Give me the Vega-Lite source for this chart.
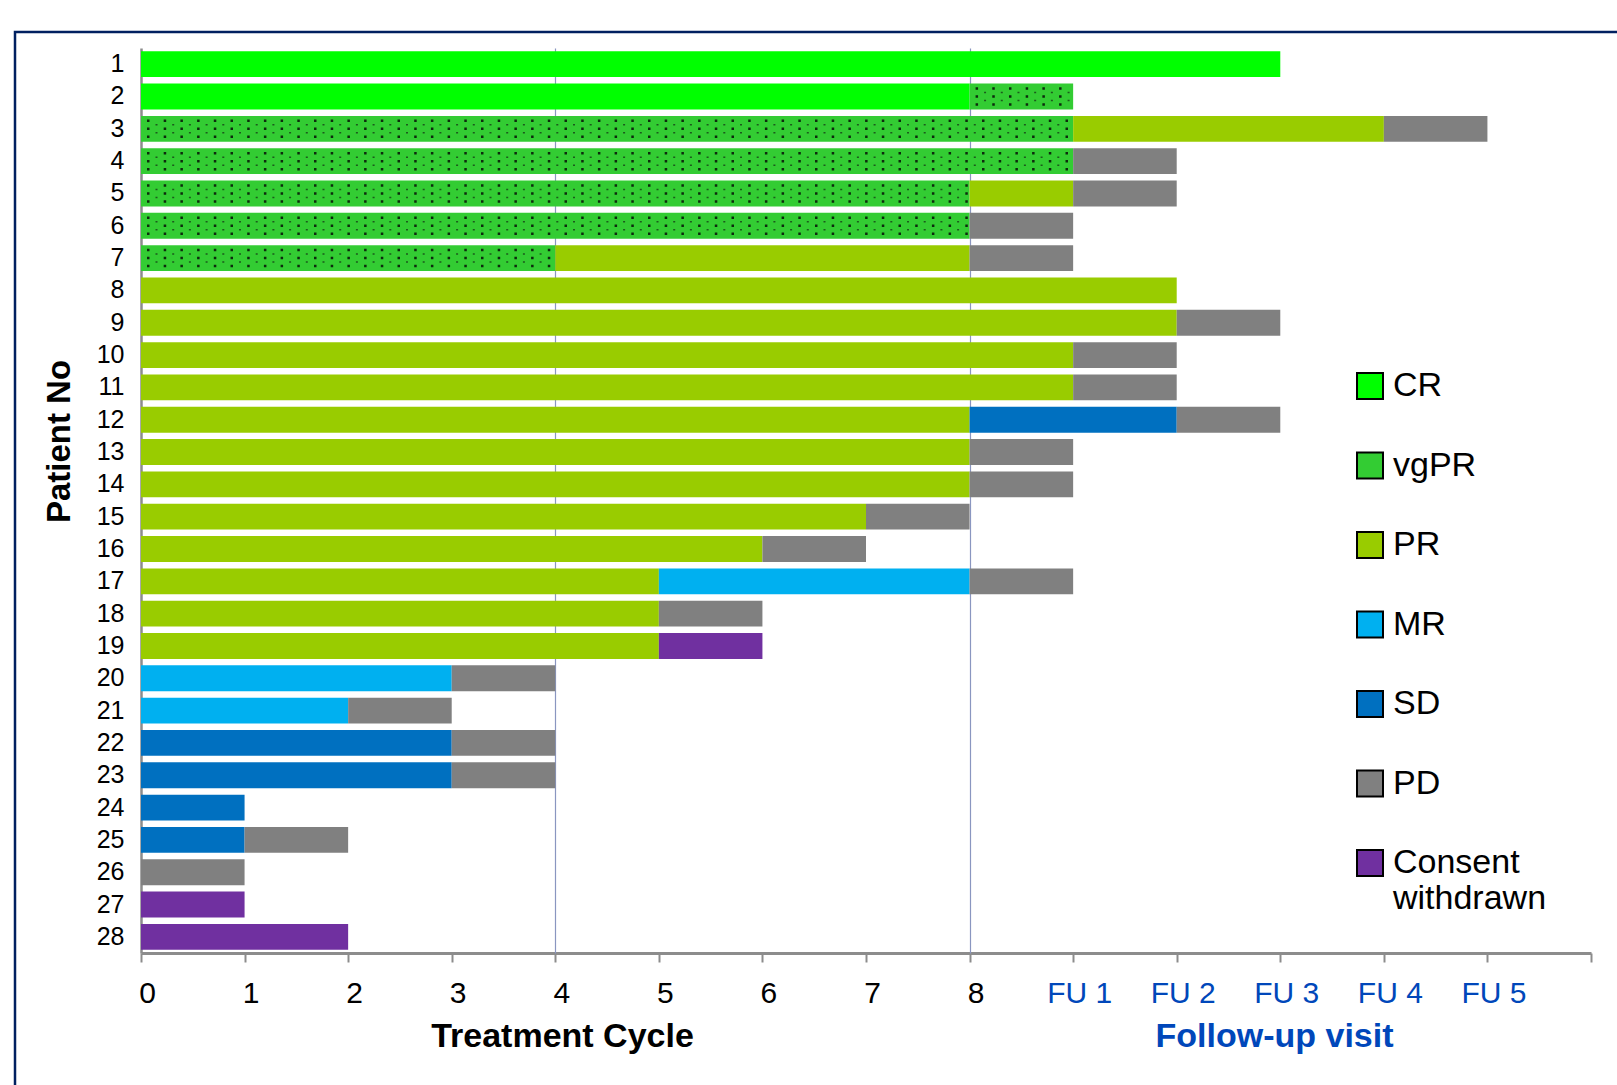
{
  "$schema": "https://vega.github.io/schema/vega-lite/v6.json",
  "width": 1610,
  "height": 1060,
  "autosize": {"type": "none"},
  "padding": {"left": 15, "top": 32, "right": 0, "bottom": 0},
  "background": "white",
  "config": {
    "font": "Liberation Sans",
    "view": {"stroke": "#002060", "strokeWidth": 2.5}
  },
  "data": {
    "values": [
      {"patient": 1, "status": "CR", "start": 0, "end": 11},
      {"patient": 2, "status": "CR", "start": 0, "end": 8},
      {"patient": 2, "status": "vgPR", "start": 8, "end": 9},
      {"patient": 3, "status": "vgPR", "start": 0, "end": 9},
      {"patient": 3, "status": "PR", "start": 9, "end": 12},
      {"patient": 3, "status": "PD", "start": 12, "end": 13},
      {"patient": 4, "status": "vgPR", "start": 0, "end": 9},
      {"patient": 4, "status": "PD", "start": 9, "end": 10},
      {"patient": 5, "status": "vgPR", "start": 0, "end": 8},
      {"patient": 5, "status": "PR", "start": 8, "end": 9},
      {"patient": 5, "status": "PD", "start": 9, "end": 10},
      {"patient": 6, "status": "vgPR", "start": 0, "end": 8},
      {"patient": 6, "status": "PD", "start": 8, "end": 9},
      {"patient": 7, "status": "vgPR", "start": 0, "end": 4},
      {"patient": 7, "status": "PR", "start": 4, "end": 8},
      {"patient": 7, "status": "PD", "start": 8, "end": 9},
      {"patient": 8, "status": "PR", "start": 0, "end": 10},
      {"patient": 9, "status": "PR", "start": 0, "end": 10},
      {"patient": 9, "status": "PD", "start": 10, "end": 11},
      {"patient": 10, "status": "PR", "start": 0, "end": 9},
      {"patient": 10, "status": "PD", "start": 9, "end": 10},
      {"patient": 11, "status": "PR", "start": 0, "end": 9},
      {"patient": 11, "status": "PD", "start": 9, "end": 10},
      {"patient": 12, "status": "PR", "start": 0, "end": 8},
      {"patient": 12, "status": "SD", "start": 8, "end": 10},
      {"patient": 12, "status": "PD", "start": 10, "end": 11},
      {"patient": 13, "status": "PR", "start": 0, "end": 8},
      {"patient": 13, "status": "PD", "start": 8, "end": 9},
      {"patient": 14, "status": "PR", "start": 0, "end": 8},
      {"patient": 14, "status": "PD", "start": 8, "end": 9},
      {"patient": 15, "status": "PR", "start": 0, "end": 7},
      {"patient": 15, "status": "PD", "start": 7, "end": 8},
      {"patient": 16, "status": "PR", "start": 0, "end": 6},
      {"patient": 16, "status": "PD", "start": 6, "end": 7},
      {"patient": 17, "status": "PR", "start": 0, "end": 5},
      {"patient": 17, "status": "MR", "start": 5, "end": 8},
      {"patient": 17, "status": "PD", "start": 8, "end": 9},
      {"patient": 18, "status": "PR", "start": 0, "end": 5},
      {"patient": 18, "status": "PD", "start": 5, "end": 6},
      {"patient": 19, "status": "PR", "start": 0, "end": 5},
      {"patient": 19, "status": "Consent withdrawn", "start": 5, "end": 6},
      {"patient": 20, "status": "MR", "start": 0, "end": 3},
      {"patient": 20, "status": "PD", "start": 3, "end": 4},
      {"patient": 21, "status": "MR", "start": 0, "end": 2},
      {"patient": 21, "status": "PD", "start": 2, "end": 3},
      {"patient": 22, "status": "SD", "start": 0, "end": 3},
      {"patient": 22, "status": "PD", "start": 3, "end": 4},
      {"patient": 23, "status": "SD", "start": 0, "end": 3},
      {"patient": 23, "status": "PD", "start": 3, "end": 4},
      {"patient": 24, "status": "SD", "start": 0, "end": 1},
      {"patient": 25, "status": "SD", "start": 0, "end": 1},
      {"patient": 25, "status": "PD", "start": 1, "end": 2},
      {"patient": 26, "status": "PD", "start": 0, "end": 1},
      {"patient": 27, "status": "Consent withdrawn", "start": 0, "end": 1},
      {"patient": 28, "status": "Consent withdrawn", "start": 0, "end": 2}
    ]
  },
  "layer": [
    {
      "mark": {"type": "bar"},
      "encoding": {
        "y": {
          "field": "patient",
          "type": "ordinal",
          "scale": {"range": [16, 921], "paddingInner": 0.2, "paddingOuter": 0.1},
          "axis": {
            "orient": "left",
            "offset": -126,
            "domainColor": "#8c8c8c",
            "domainWidth": 2.5,
            "ticks": false,
            "grid": false,
            "labelFontSize": 25,
            "labelColor": "black",
            "labelPadding": 17,
            "title": "Patient No",
            "titleFontSize": 33,
            "titleFontWeight": "bold",
            "titleColor": "black",
            "titleX": -82,
            "titleY": 409,
            "titleAlign": "center",
            "titleBaseline": "middle"
          }
        },
        "x": {
          "field": "start",
          "type": "quantitative",
          "scale": {"domain": [0, 14], "range": [126, 1576], "nice": false, "zero": false},
          "axis": {
            "orient": "bottom",
            "offset": -139,
            "values": [0, 1, 2, 3, 4, 5, 6, 7, 8, 9, 10, 11, 12, 13, 14],
            "labelExpr": "datum.value > 13 ? '' : (datum.value > 8 ? 'FU ' + (datum.value - 8) : datum.label)",
            "labelColor": {"condition": {"test": "datum.value > 8", "value": "#0047BA"}, "value": "black"},
            "labelFontSize": 30,
            "labelPadding": 16,
            "labelOffset": 6,
            "labelFlush": false,
            "labelOverlap": false,
            "domainColor": "#8c8c8c",
            "domainWidth": 3,
            "tickColor": "#8c8c8c",
            "tickWidth": 2,
            "tickSize": 9,
            "grid": false,
            "title": "Treatment Cycle",
            "titleFontSize": 34,
            "titleFontWeight": "bold",
            "titleColor": "black",
            "titleX": 547,
            "titleY": 83,
            "titleAlign": "center",
            "titleBaseline": "middle"
          }
        },
        "x2": {"field": "end"},
        "color": {
          "field": "status",
          "type": "nominal",
          "scale": {
            "domain": ["CR", "vgPR", "PR", "MR", "SD", "PD", "Consent withdrawn"],
            "range": ["#00FF00", "#33CC33", "#99CC00", "#00B0F0", "#0070C0", "#808080", "#7030A0"]
          },
          "legend": {
            "title": null,
            "orient": "none",
            "legendX": 1338,
            "legendY": 337,
            "padding": 0,
            "symbolType": "square",
            "symbolSize": 676,
            "symbolStrokeColor": "black",
            "symbolStrokeWidth": 2,
            "labelFontSize": 34,
            "labelColor": "black",
            "labelOffset": 6,
            "labelLimit": 0,
            "labelLineHeight": 43,
            "rowPadding": 45.5,
            "labelExpr": "datum.label == 'Consent withdrawn' ? ['Consent', 'withdrawn'] : datum.label"
          }
        }
      }
    },
    {
      "transform": [{"filter": "datum.status == 'vgPR'"}],
      "mark": {"type": "rule", "color": "#0d2a0d", "strokeWidth": 2.5, "strokeDash": [2.5, 14.2], "strokeDashOffset": -6, "strokeCap": "butt", "yOffset": -8},
      "encoding": {
        "y": {"field": "patient", "type": "ordinal"},
        "x": {
          "field": "start",
          "type": "quantitative",
          "axis": {
            "orient": "bottom",
            "offset": -139,
            "zindex": 0,
            "values": [4, 8],
            "domain": false,
            "labels": false,
            "grid": false,
            "ticks": true,
            "tickSize": -905,
            "tickColor": "#8A96C0",
            "tickWidth": 1.2,
            "title": "Follow-up visit",
            "titleFontSize": 34,
            "titleFontWeight": "bold",
            "titleColor": "#0047BA",
            "titleX": 1259,
            "titleY": 83,
            "titleAlign": "center",
            "titleBaseline": "middle"
          }
        },
        "x2": {"field": "end"}
      }
    },
    {
      "transform": [{"filter": "datum.status == 'vgPR'"}],
      "mark": {"type": "rule", "color": "#0d2a0d", "strokeWidth": 2.5, "strokeDash": [2.5, 14.2], "strokeDashOffset": -6, "strokeCap": "butt", "yOffset": 0},
      "encoding": {
        "y": {"field": "patient", "type": "ordinal"},
        "x": {"field": "start", "type": "quantitative", "axis": null},
        "x2": {"field": "end"}
      }
    },
    {
      "transform": [{"filter": "datum.status == 'vgPR'"}],
      "mark": {"type": "rule", "color": "#0d2a0d", "strokeWidth": 2.5, "strokeDash": [2.5, 14.2], "strokeDashOffset": -6, "strokeCap": "butt", "yOffset": 8},
      "encoding": {
        "y": {"field": "patient", "type": "ordinal"},
        "x": {"field": "start", "type": "quantitative", "axis": null},
        "x2": {"field": "end"}
      }
    },
    {
      "transform": [{"filter": "datum.status == 'vgPR'"}],
      "mark": {"type": "rule", "color": "#1c5a1c", "strokeWidth": 1.5, "strokeDash": [2, 14.7], "strokeDashOffset": -14.5, "strokeCap": "butt", "yOffset": -4},
      "encoding": {
        "y": {"field": "patient", "type": "ordinal"},
        "x": {"field": "start", "type": "quantitative", "axis": null},
        "x2": {"field": "end"}
      }
    },
    {
      "transform": [{"filter": "datum.status == 'vgPR'"}],
      "mark": {"type": "rule", "color": "#1c5a1c", "strokeWidth": 1.5, "strokeDash": [2, 14.7], "strokeDashOffset": -14.5, "strokeCap": "butt", "yOffset": 4},
      "encoding": {
        "y": {"field": "patient", "type": "ordinal"},
        "x": {"field": "start", "type": "quantitative", "axis": null},
        "x2": {"field": "end"}
      }
    }
  ],
  "resolve": {"axis": {"x": "independent"}}
}
